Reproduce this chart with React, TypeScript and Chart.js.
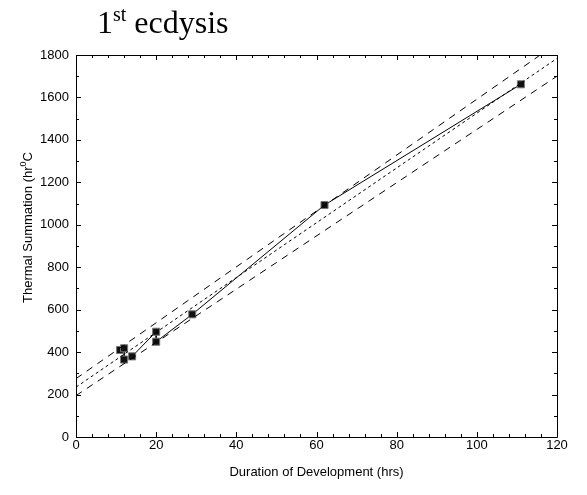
import React, { useEffect, useRef } from "react";
import { Chart, registerables } from "chart.js";

Chart.register(...registerables);

// Observed data: duration of development (hrs) vs thermal summation
const durationHrs = [11, 12, 12, 14, 20, 20, 29, 62, 111];
const thermalSum = [410, 418, 365, 380, 496, 449, 578, 1093, 1662];

// Regression line and confidence bands (end points)
const lineX = [0, 120];
const upperBand = [275, 1855];
const fitLine = [235, 1784];
const lowerBand = [195, 1700];

const xTickValues = [0, 20, 40, 60, 80, 100, 120];
const yTickValues = [0, 200, 400, 600, 800, 1000, 1200, 1400, 1600, 1800];

const titleMain = "1";
const titleSup = "st";
const titleRest = " ecdysis";
const yTitleMain = "Thermal Summation (hr";
const yTitleSup = "0";
const yTitleEnd = "C";
const xTitle = "Duration of Development (hrs)";

const SANS = "'Liberation Sans', Arial, sans-serif";
const SERIF = "'Liberation Serif', 'Times New Roman', serif";

const framePlugin = {
  id: "framePlugin",
  afterDraw(chart: any) {
    const { ctx, chartArea, scales } = chart;
    const { left, right, top, bottom } = chartArea;
    const xs = scales.x;
    const ys = scales.y;
    ctx.save();
    ctx.strokeStyle = "#000";
    ctx.lineWidth = 1;
    ctx.beginPath();
    ctx.rect(Math.round(left) + 0.5, Math.round(top) + 0.5, Math.round(right - left), Math.round(bottom - top));
    ctx.stroke();

    ctx.beginPath();
    // x ticks (minor every 4, major every 20)
    for (let v = 0; v <= 120; v += 4) {
      const px = Math.round(xs.getPixelForValue(v)) + 0.5;
      const len = xTickValues.includes(v) ? 5 : 3;
      ctx.moveTo(px, bottom);
      ctx.lineTo(px, bottom - len);
      ctx.moveTo(px, top);
      ctx.lineTo(px, top + len);
    }
    // y ticks (minor every 100, major every 200)
    for (let v = 0; v <= 1800; v += 100) {
      const py = Math.round(ys.getPixelForValue(v)) + 0.5;
      const len = yTickValues.includes(v) ? 5 : 3;
      ctx.moveTo(left, py);
      ctx.lineTo(left + len, py);
      ctx.moveTo(right, py);
      ctx.lineTo(right - len, py);
    }
    ctx.stroke();

    // Title with superscript
    ctx.fillStyle = "#000";
    ctx.textBaseline = "alphabetic";
    ctx.textAlign = "left";
    let tx = 97;
    ctx.font = `32px ${SERIF}`;
    ctx.fillText(titleMain, tx, 33);
    tx += ctx.measureText(titleMain).width;
    ctx.font = `20px ${SERIF}`;
    ctx.fillText(titleSup, tx, 21);
    tx += ctx.measureText(titleSup).width;
    ctx.font = `32px ${SERIF}`;
    ctx.fillText(titleRest, tx, 33);

    // X axis title
    ctx.font = `13px ${SANS}`;
    ctx.textAlign = "center";
    ctx.fillText(xTitle, (left + right) / 2, 476);

    // Y axis title (rotated) with superscript
    ctx.save();
    ctx.translate(32, 303);
    ctx.rotate(-Math.PI / 2);
    ctx.textAlign = "left";
    let yx = 0;
    ctx.font = `13px ${SANS}`;
    ctx.fillText(yTitleMain, yx, 0);
    yx += ctx.measureText(yTitleMain).width;
    ctx.font = `9px ${SANS}`;
    ctx.fillText(yTitleSup, yx, -6);
    yx += ctx.measureText(yTitleSup).width;
    ctx.font = `13px ${SANS}`;
    ctx.fillText(yTitleEnd, yx, 0);
    ctx.restore();

    ctx.restore();
  },
};

export default function App() {
  const canvasRef = useRef<HTMLCanvasElement | null>(null);

  useEffect(() => {
    const canvas = canvasRef.current;
    if (!canvas) return;

    const pts = durationHrs.map((x, i) => ({ x, y: thermalSum[i] }));
    const mk = (ys: number[]) => lineX.map((x, i) => ({ x, y: ys[i] }));

    const chart = new Chart(canvas, {
      type: "scatter",
      data: {
        datasets: [
          {
            label: "upper",
            data: mk(upperBand),
            showLine: true,
            borderColor: "#000",
            borderWidth: 1,
            borderDash: [7, 6],
            pointRadius: 0,
          },
          {
            label: "fit",
            data: mk(fitLine),
            showLine: true,
            borderColor: "#000",
            borderWidth: 1,
            borderDash: [3, 3],
            pointRadius: 0,
          },
          {
            label: "lower",
            data: mk(lowerBand),
            showLine: true,
            borderColor: "#000",
            borderWidth: 1,
            borderDash: [7, 6],
            pointRadius: 0,
          },
          {
            label: "observed",
            data: pts,
            showLine: true,
            borderColor: "#000",
            borderWidth: 1,
            pointStyle: "rect",
            pointRadius: 5,
            pointBackgroundColor: "#111",
            pointBorderColor: "#777",
            pointBorderWidth: 1,
          },
        ],
      },
      options: {
        responsive: false,
        animation: false,
        layout: { padding: { top: 55, right: 30, left: 0, bottom: 0 } },
        plugins: {
          legend: { display: false },
          tooltip: { enabled: false },
          title: { display: false },
        },
        scales: {
          x: {
            type: "linear",
            min: 0,
            max: 120,
            afterBuildTicks: (s: any) => {
              s.ticks = xTickValues.map((v) => ({ value: v }));
            },
            ticks: {
              font: { family: SANS, size: 13 },
              color: "#000",
              padding: 1,
              callback: (v: any) => String(v),
            },
            grid: { display: false, drawTicks: false },
            border: { display: false },
            afterFit: (s: any) => {
              s.height = 58;
            },
          },
          y: {
            type: "linear",
            min: 0,
            max: 1800,
            afterBuildTicks: (s: any) => {
              s.ticks = yTickValues.map((v) => ({ value: v }));
            },
            ticks: {
              font: { family: SANS, size: 13 },
              color: "#000",
              padding: 7,
              callback: (v: any) => String(v),
            },
            grid: { display: false, drawTicks: false },
            border: { display: false },
            afterFit: (s: any) => {
              s.width = 76;
            },
          },
        },
      },
      plugins: [framePlugin],
    });

    return () => chart.destroy();
  }, []);

  return (
    <div style={{ position: "fixed", left: 0, top: 0, width: 587, height: 495, background: "#fff" }}>
      <canvas ref={canvasRef} width={587} height={495} style={{ width: 587, height: 495, display: "block" }} />
    </div>
  );
}
